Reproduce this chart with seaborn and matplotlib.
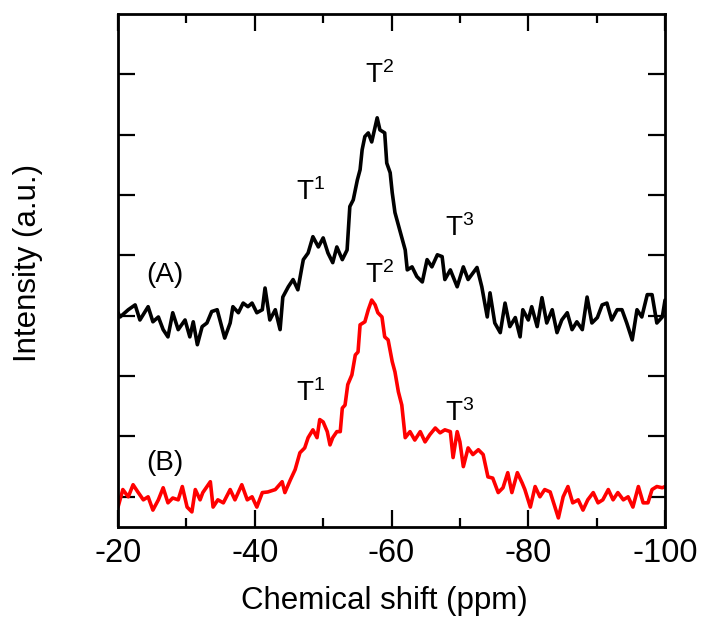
import matplotlib
matplotlib.use("Agg")
import matplotlib.pyplot as plt
from matplotlib.ticker import MultipleLocator
import seaborn as sns
import pandas as pd

# ---- data ----
shift_a = [-20.0, -20.3, -21.5, -22.5, -23.2, -24.4, -25.1, -25.9, -26.6, -27.3, -28.0, -28.8, -29.8,
           -30.5, -31.0, -31.6, -32.3, -33.0, -33.7, -34.5, -34.9, -35.6, -36.4, -36.8, -37.6, -38.3,
           -39.0, -39.6, -40.3, -41.1, -41.5, -42.2, -43.0, -43.7, -44.1, -44.9, -45.6, -46.3, -46.9,
           -47.1, -47.8, -48.5, -49.3, -50.0, -50.7, -51.4, -52.0, -52.8, -53.5, -53.9, -54.4, -55.0,
           -55.4, -55.7, -56.1, -56.6, -57.1, -57.6, -57.9, -58.3, -59.0, -59.3, -59.8, -60.1, -60.5,
           -61.2, -62.0, -62.3, -63.0, -63.7, -64.5, -65.2, -65.9, -66.7, -67.4, -67.8, -68.6, -69.6,
           -70.5, -71.2, -72.5, -73.2, -74.0, -74.4, -75.1, -75.9, -76.6, -77.3, -78.1, -78.8, -79.2,
           -80.0, -80.5, -81.3, -82.0, -82.7, -83.5, -84.2, -84.9, -85.7, -86.4, -87.1, -87.9, -88.6,
           -89.3, -90.1, -90.8, -91.5, -92.2, -93.0, -93.7, -94.4, -95.2, -95.9, -96.6, -97.4, -98.1,
           -98.8, -99.6, -100.0]
intensity_a = [3.05, 2.98, 3.10, 3.18, 2.93, 3.15, 2.90, 2.98, 2.77, 2.65, 3.05, 2.77, 2.93,
               2.65, 2.90, 2.52, 2.82, 2.88, 3.07, 3.10, 2.93, 2.63, 2.88, 3.15, 3.05, 3.21,
               3.15, 3.21, 3.05, 3.10, 3.46, 2.93, 3.10, 2.77, 3.31, 3.48, 3.60, 3.43, 3.81,
               3.93, 4.04, 4.31, 4.14, 4.29, 4.04, 3.88, 4.14, 3.93, 4.09, 4.81, 4.92, 5.25,
               5.42, 5.75, 5.97, 6.03, 5.88, 6.13, 6.28, 6.08, 6.03, 5.53, 5.37, 5.04, 4.71,
               4.42, 4.09, 3.76, 3.81, 3.65, 3.56, 3.93, 3.81, 4.01, 3.98, 3.60, 3.76, 3.48,
               3.81, 3.60, 3.80, 3.48, 2.98, 3.38, 2.88, 2.72, 3.21, 2.82, 2.97, 2.65, 3.10,
               2.93, 3.15, 2.82, 3.30, 2.88, 3.10, 2.72, 2.93, 3.05, 2.77, 2.90, 2.77, 3.31,
               2.88, 2.97, 3.18, 3.21, 2.93, 3.10, 3.10, 2.88, 2.60, 3.10, 2.98, 3.35, 3.35,
               2.88, 2.98, 3.26]

shift_b = [-20.0, -20.7, -21.5, -22.2, -22.9, -23.7, -24.4, -25.1, -25.9, -26.6, -27.3, -28.0, -28.8,
           -29.4, -30.1, -30.8, -31.3, -32.0, -32.4, -33.5, -33.9, -34.6, -35.4, -36.4, -37.1, -38.1,
           -38.9, -39.6, -40.3, -41.1, -41.9, -43.0, -44.0, -44.4, -45.2, -45.9, -46.6, -47.3, -47.8,
           -48.5, -49.1, -49.5, -50.0, -50.6, -51.0, -51.4, -52.0, -52.5, -52.8, -53.2, -53.6, -54.2,
           -54.7, -55.1, -55.4, -56.1, -56.6, -57.1, -57.6, -58.0, -58.6, -59.0, -59.5, -60.1, -60.5,
           -61.0, -61.5, -62.0, -62.7, -63.4, -64.2, -64.9, -65.6, -66.4, -67.1, -67.8, -68.6, -69.0,
           -69.6, -70.0, -70.5, -71.2, -71.9, -72.7, -73.4, -74.1, -74.8, -75.6, -76.3, -77.0, -77.6,
           -78.4, -79.1, -79.5, -80.3, -81.0, -81.7, -82.4, -83.2, -83.9, -84.4, -85.1, -85.8, -86.5,
           -87.3, -88.0, -88.7, -89.5, -90.2, -90.9, -91.7, -92.4, -93.1, -93.9, -94.6, -95.3, -96.1,
           -96.8, -97.5, -98.1, -98.8, -99.6, -100.0]
intensity_b = [-0.17, 0.12, 0.00, 0.20, 0.08, -0.05, 0.00, -0.22, -0.05, 0.15, -0.10, -0.02, -0.05,
               0.17, -0.17, -0.25, 0.12, -0.05, 0.07, 0.25, -0.17, -0.05, -0.10, 0.12, -0.05, 0.20,
               -0.05, 0.00, -0.17, 0.07, 0.08, 0.12, 0.25, 0.07, 0.28, 0.45, 0.73, 0.81, 0.98,
               1.11, 0.98, 1.28, 1.24, 1.08, 0.86, 0.98, 1.08, 1.08, 1.47, 1.52, 1.86, 2.02,
               2.35, 2.40, 2.85, 2.90, 3.10, 3.26, 3.18, 3.05, 2.98, 2.65, 2.60, 2.24, 2.07,
               1.74, 1.52, 0.98, 1.08, 0.94, 1.08, 0.91, 1.03, 1.14, 1.06, 1.11, 1.08, 0.65,
               1.08, 0.91, 0.50, 0.81, 0.70, 0.78, 0.70, 0.33, 0.31, 0.07, 0.15, 0.40, 0.07,
               0.40, 0.23, 0.12, -0.17, 0.17, 0.00, 0.12, 0.08, -0.17, -0.35, 0.00, 0.17, -0.10,
               -0.05, -0.22, -0.05, 0.07, -0.10, -0.05, 0.12, -0.05, 0.07, -0.05, 0.00, -0.17, 0.17,
               -0.10, -0.10, 0.12, 0.17, 0.15, 0.17]

series_labels = ["(A)", "(B)"]
series_label_pos = [(-26.9, 3.68), (-26.9, 0.56)]
peak_labels = ["T$^{1}$", "T$^{2}$", "T$^{3}$"]
peak_pos_a = [(-48.2, 5.05), (-58.2, 6.99), (-70.0, 4.46)]
peak_pos_b = [(-48.2, 1.72), (-58.2, 3.68), (-70.0, 1.38)]

x_ticks = [-20, -40, -60, -80, -100]
y_ticks = [0, 1, 2, 3, 4, 5, 6, 7]

# ---- plot ----
sns.set_style("ticks")
plt.rcParams["font.family"] = ["Liberation Sans", "DejaVu Sans"]
plt.rcParams["mathtext.fontset"] = "custom"
plt.rcParams["mathtext.rm"] = "Liberation Sans"
plt.rcParams["mathtext.it"] = "Liberation Sans"
plt.rcParams["mathtext.default"] = "regular"
plt.rcParams["text.color"] = "black"
plt.rcParams["axes.labelcolor"] = "black"
plt.rcParams["xtick.color"] = "black"
plt.rcParams["ytick.color"] = "black"

fig = plt.figure(figsize=(7.03, 6.17), dpi=100)
ax = fig.add_axes([0.1679, 0.1459, 0.7781, 0.8314])

df_a = pd.DataFrame({"shift": shift_a, "intensity": intensity_a})
df_b = pd.DataFrame({"shift": shift_b, "intensity": intensity_b})
sns.lineplot(data=df_a, x="shift", y="intensity", ax=ax, color="black", lw=2.6,
             estimator=None, sort=False)
sns.lineplot(data=df_b, x="shift", y="intensity", ax=ax, color="#ff0000", lw=2.6,
             estimator=None, sort=False)

ax.set_xlim(-20, -100)
ax.set_ylim(-0.5, 8.0)
ax.set_xticks(x_ticks)
ax.set_xticklabels([str(t) for t in x_ticks])
ax.xaxis.set_minor_locator(MultipleLocator(10))
ax.set_yticks(y_ticks)
ax.set_yticklabels([])

ax.tick_params(axis="x", which="major", direction="in", length=12, width=1.6,
               top=True, bottom=True, labelsize=23.5, pad=8)
ax.tick_params(axis="x", which="minor", direction="in", length=6.5, width=1.6,
               top=True, bottom=True)
ax.tick_params(axis="y", which="major", direction="in", length=12, width=1.6,
               left=True, right=True)
for s in ax.spines.values():
    s.set_linewidth(2.0)
    s.set_color("black")

ax.set_xlabel("Chemical shift (ppm)", fontsize=22.5)
ax.set_ylabel("Intensity (a.u.)", fontsize=22.5)
ax.xaxis.set_label_coords(0.487, -0.115)
ax.yaxis.set_label_coords(-0.137, 0.514)

for lab, (x, y) in zip(series_labels, series_label_pos):
    ax.text(x, y, lab, fontsize=20, ha="center", va="center")
for lab, (x, y) in zip(peak_labels, peak_pos_a):
    ax.text(x, y, lab, fontsize=20, ha="center", va="center")
for lab, (x, y) in zip(peak_labels, peak_pos_b):
    ax.text(x, y, lab, fontsize=20, ha="center", va="center")

fig.savefig("out.png", dpi=100)
